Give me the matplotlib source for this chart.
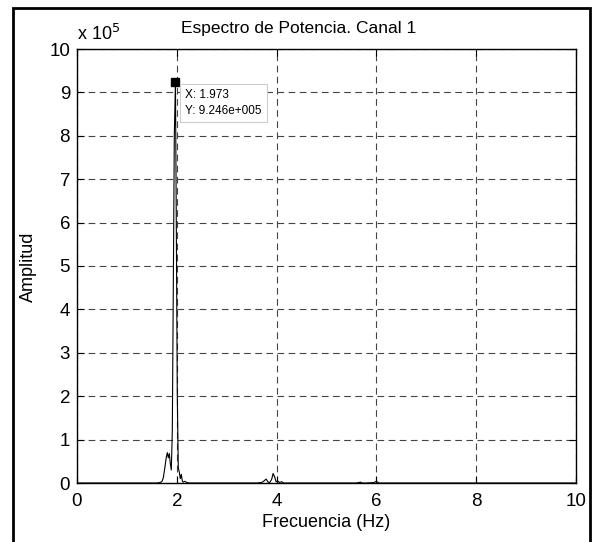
import matplotlib.pyplot as plt
from matplotlib.patches import Rectangle

# spectrum points (Hz, amplitude)
freq = [0.0, 1.60, 1.66, 1.70, 1.73, 1.76, 1.79, 1.81, 1.83, 1.85, 1.87, 1.89, 1.91,
        1.93, 1.95, 1.973, 1.99, 2.01, 2.03, 2.05, 2.07, 2.09, 2.11, 2.13, 2.16,
        2.20, 2.25, 3.60, 3.70, 3.75, 3.79, 3.83, 3.86, 3.90, 3.93, 3.96, 3.99,
        4.02, 4.06, 4.10, 4.14, 4.20, 5.60, 5.68, 5.72, 5.80, 5.95, 6.00, 6.05, 10.0]
amp = [0.0, 0.0, 0.01, 0.03, 0.12, 0.35, 0.60, 0.70, 0.58, 0.68, 0.45, 0.30, 1.2,
       4.5, 8.0, 9.246, 6.0, 2.0, 0.35, 0.25, 0.10, 0.20, 0.05, 0.02, 0.04,
       0.01, 0.0, 0.0, 0.01, 0.05, 0.09, 0.02, 0.01, 0.08, 0.22, 0.14, 0.03,
       0.05, 0.01, 0.03, 0.0, 0.0, 0.0, 0.02, 0.0, 0.0, 0.01, 0.04, 0.0, 0.0]
amp = [a * 1e5 for a in amp]

peak_x = 1.973
peak_y = 9.246e5

xticks = [0, 2, 4, 6, 8, 10]
yticks = [i * 1e5 for i in range(11)]
ytick_labels = [str(i) for i in range(11)]

plt.rcParams['font.family'] = ['Liberation Sans', 'DejaVu Sans']

fig = plt.figure(figsize=(5.94, 5.42), dpi=100)
ax = fig.add_axes([77 / 594, 1 - 483 / 542, 499 / 594, 434 / 542])

ax.plot(freq, amp, color='black', linewidth=0.8)
ax.plot([peak_x], [peak_y], marker='s', color='black', markersize=6, linestyle='none')

ax.set_xlim(0, 10)
ax.set_ylim(0, 10e5)
ax.set_xticks(xticks)
ax.set_xticklabels([str(t) for t in xticks])
ax.set_yticks(yticks)
ax.set_yticklabels(ytick_labels)
ax.tick_params(direction='in', top=True, right=True, labelsize=13.5, length=5, width=0.8)
ax.tick_params(axis='x', pad=7)
ax.tick_params(axis='y', pad=5)
ax.grid(True, linestyle=(0, (6, 4)), color='#444444', linewidth=0.8)
for s in ax.spines.values():
    s.set_linewidth(1.0)

ax.set_xlabel('Frecuencia (Hz)', fontsize=13, labelpad=3)
fig.text(28 / 594, 1 - 267 / 542, 'Amplitud', fontsize=13, rotation=90,
         ha='center', va='center')
fig.text(299 / 594, 1 - 29 / 542, 'Espectro de Potencia. Canal 1', fontsize=12.5,
         ha='center', va='center')
fig.text(77 / 594, 1 - 34 / 542, 'x 10$^5$', fontsize=13, ha='left', va='center')

# data tip box
ax.text(peak_x + 0.2, 8.75e5, 'X: 1.973\nY: 9.246e+005', fontsize=8.5, ha='left',
        va='center', linespacing=1.4,
        bbox=dict(boxstyle='square,pad=0.45', facecolor='white', edgecolor='#cccccc',
                  linewidth=0.8))

# outer frame
fig.patches.append(Rectangle((13 / 594, -0.01), 577 / 594, 1 - 8 / 542 + 0.01,
                             transform=fig.transFigure, fill=False,
                             edgecolor='black', linewidth=2))

fig.savefig('out.png', dpi=100)
